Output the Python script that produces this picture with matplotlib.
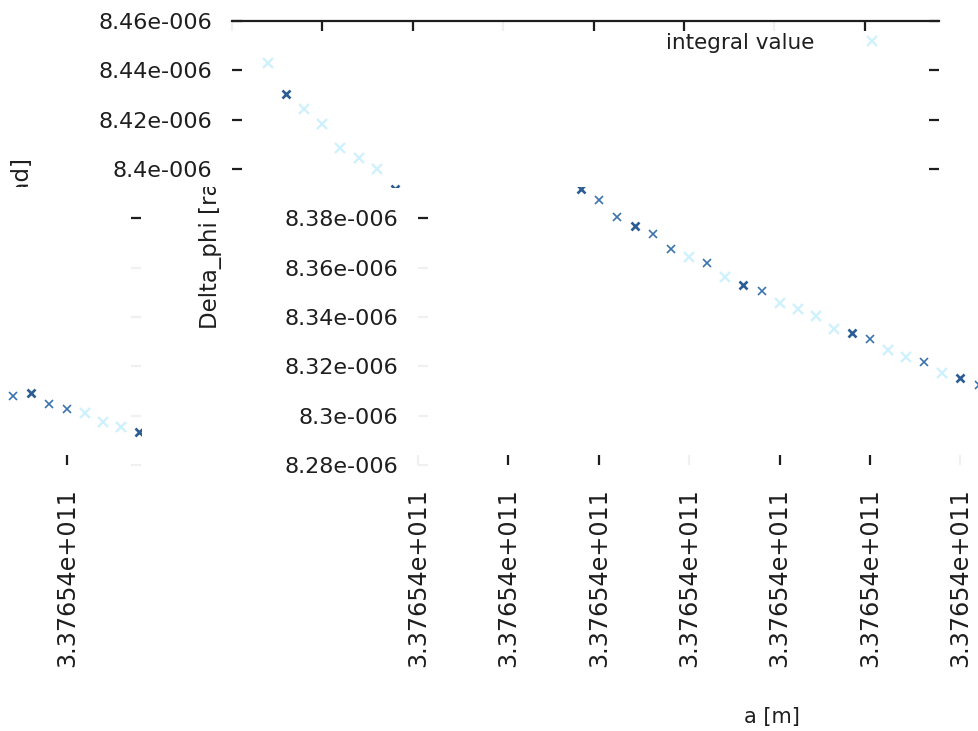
"""Delta_phi vs a, integral value -- gnuplot export with the shifted / wrapped bands."""
import matplotlib
matplotlib.use("Agg")
import matplotlib.pyplot as plt
from matplotlib.transforms import Bbox, TransformedBbox

# a = 3.37654e+011 m + offset (km); every tick prints the same at %g precision
a_offset_km = [0, 1, 2, 3, 4, 5, 6, 7, 8, 9, 10, 11, 12, 13, 14, 15, 16, 17, 18,
               19, 20, 21, 22, 23, 24, 25, 26, 27, 28, 29, 30, 31, 32, 33, 34, 35, 36, 37]
# Delta_phi in units of 1e-6 rad
delta_phi_e6 = [8.44301, 8.43047, 8.42440, 8.41833, 8.40862, 8.40458, 8.40013, 8.39204,
                8.38759, 8.38071, 8.37707, 8.37383, 8.36777, 8.36413, 8.36170, 8.35604,
                8.35280, 8.35037, 8.34552, 8.34309, 8.34026, 8.33500, 8.33338, 8.33096,
                8.32651, 8.32367, 8.32165, 8.31720, 8.31518, 8.31235, 8.30790, 8.30911,
                8.30466, 8.30264, 8.30102, 8.29738, 8.29536, 8.29333]

x_ticks = [-2, 3, 8, 13, 18, 23, 28, 33]
x_tick_labels = ["3.37654e+011"] * 8
y_ticks_top = [8.46, 8.44, 8.42, 8.40]
y_tick_labels_top = ["8.46e-006", "8.44e-006", "8.42e-006", "8.4e-006"]
y_ticks_low = [8.38, 8.36, 8.34, 8.32, 8.30, 8.28]
y_tick_labels_low = ["8.38e-006", "8.36e-006", "8.34e-006", "8.32e-006", "8.3e-006", "8.28e-006"]
X_MIN, X_MAX = -2, 37.1
Y_MIN, Y_MAX = 8.28, 8.46

# --- styling / layout (pixels of the 979x731 picture) ---
shade = ["f", "b", "f", "f", "f", "f", "f", "b",
         "t", "t", "b", "t", "t", "f", "t", "f", "b", "t", "f", "f", "f", "f",
         "b", "t", "f", "f", "t", "f", "b", "t",
         "t", "b", "t", "t", "f", "f", "f", "b"]
SHADES = {
    "f": dict(color="#cdf1fd", mew=1.6, ms=6.5),
    "t": dict(color="#3c74b0", mew=1.2, ms=5.5),
    "b": dict(color="#2b5d95", mew=1.9, ms=6.0),
}
FAINT_X = [0, 3, 6]          # tick columns that came out nearly white
DARK_Y_LOW = [8.38]          # the only dark tick in the lower band
TXT = "#1e1e1e"
FAINT = "#f0f0f0"

FIG_W, FIG_H = 979, 731
PX0, PX1 = 418, 1125
PY0, PY1 = 21, 465
SPLIT_Y = 187
TOP_SHIFT = 186
WRAP_SHIFT = 984

plt.rcParams["font.family"] = "DejaVu Sans"

x_ticks_dark = [x for i, x in enumerate(x_ticks) if i not in FAINT_X]


def rect(x0, y0, x1, y1):
    return [x0 / FIG_W, 1 - y1 / FIG_H, (x1 - x0) / FIG_W, (y1 - y0) / FIG_H]


y_split = Y_MAX - (SPLIT_Y - PY0) / (PY1 - PY0) * (Y_MAX - Y_MIN)
split_frac = 1 - SPLIT_Y / FIG_H

fig = plt.figure(figsize=(FIG_W / 100, FIG_H / 100), dpi=100)
ax_top = fig.add_axes(rect(PX0 - TOP_SHIFT, PY0, PX1 - TOP_SHIFT, SPLIT_Y))
ax_mid = fig.add_axes(rect(PX0, SPLIT_Y, PX1, PY1))
ax_wrap = fig.add_axes(rect(PX0 - WRAP_SHIFT, SPLIT_Y, PX1 - WRAP_SHIFT, PY1))


def draw_points(ax):
    for key, st in SHADES.items():
        xs = [a for a, s in zip(a_offset_km, shade) if s == key]
        ys = [v for v, s in zip(delta_phi_e6, shade) if s == key]
        ax.plot(xs, ys, ls="none", marker="x", color=st["color"], mew=st["mew"],
                ms=st["ms"], label="integral value" if key == "f" else None)


for ax in (ax_top, ax_mid, ax_wrap):
    ax.set_facecolor("none")
    draw_points(ax)
    ax.set_xlim(X_MIN, X_MAX)
    for side in ("left", "right", "bottom", "top"):
        ax.spines[side].set_visible(False)
    ax.xaxis.remove_overlapping_locs = False
    ax.yaxis.remove_overlapping_locs = False
    ax.tick_params(which="both", direction="in", length=7, width=1.6,
                   color=TXT, labelcolor=TXT)

# top band: shifted left
ax_top.set_ylim(y_split, Y_MAX)
ax_top.spines["top"].set_visible(True)
ax_top.spines["top"].set_linewidth(1.6)
ax_top.spines["top"].set_color(TXT)
ax_top.set_yticks(y_ticks_top, y_tick_labels_top)
ax_top.tick_params(axis="y", left=True, right=True, labelleft=True, labelsize=16, pad=14)
ax_top.set_xticks(x_ticks)
ax_top.set_xticks(x_ticks_dark, minor=True)
ax_top.tick_params(axis="x", which="both", top=True, bottom=False,
                   labelbottom=False, labeltop=False)
ax_top.tick_params(axis="x", which="major", color=FAINT)
ax_top.legend(loc="upper right", bbox_to_anchor=(894 / FIG_W, 1 - 33 / FIG_H),
              bbox_transform=fig.transFigure, frameon=False, markerfirst=False,
              borderpad=0, borderaxespad=0, handlelength=2, handletextpad=1.7,
              fontsize=15.5, labelcolor=TXT)

# lower band: in place, and the part past the right edge wrapped to the left
for ax in (ax_mid, ax_wrap):
    ax.set_ylim(Y_MIN, y_split)
    ax.set_yticks(y_ticks_low, y_tick_labels_low)
    ax.set_yticks(DARK_Y_LOW, minor=True)
    ax.set_xticks(x_ticks, x_tick_labels, rotation=90)
    ax.set_xticks(x_ticks_dark, minor=True)
    ax.tick_params(axis="y", which="both", left=True, right=True)
    ax.tick_params(axis="y", which="major", labelsize=16, pad=14, color=FAINT)
    ax.tick_params(axis="x", which="both", bottom=True, top=False)
    ax.tick_params(axis="x", which="major", labelsize=17.2, pad=17, color=FAINT)

ax_mid.set_xlabel("a [m]", fontsize=15, color=TXT)
ax_mid.xaxis.set_label_coords(0.5, (PY1 - 707) / (PY1 - SPLIT_Y))

# y label, cut by the band boundary
ylab_y = 1 - 244 / FIG_H
for x_px, box in ((211, Bbox([[0, 0], [1, split_frac]])),
                  (211 - TOP_SHIFT - 2, Bbox([[0, split_frac], [1, 1]]))):
    t = fig.text(x_px / FIG_W, ylab_y, "Delta_phi [rad]", rotation=90, ha="center",
                 va="center", fontsize=16.5, color=TXT)
    t.set_clip_on(True)
    t.set_clip_box(TransformedBbox(box, fig.transFigure))

fig.savefig("out.png", dpi=100)
